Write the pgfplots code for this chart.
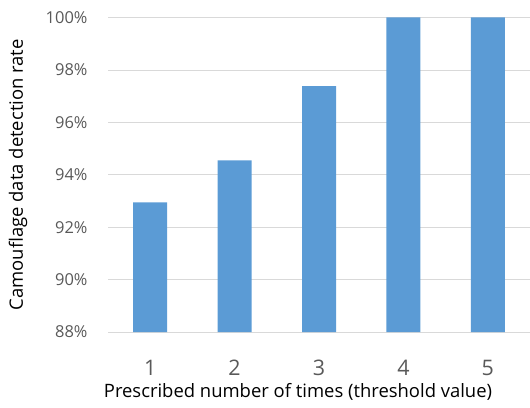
\documentclass[border=0pt]{standalone}
\usepackage{pgfplots}
\pgfplotsset{compat=1.18}
\usepackage{fontspec}
\setmainfont{Open Sans}
\definecolor{barblue}{HTML}{5B9BD5}
\definecolor{gridgray}{HTML}{D9D9D9}
\definecolor{ticktext}{HTML}{595959}
\begin{document}
\begin{tikzpicture}[x=1bp,y=1bp]
\useasboundingbox (-108,-75) rectangle (422,332);
\begin{axis}[
  at={(0,0)}, anchor=south west,
  scale only axis,
  width=422bp, height=314.5bp,
  xmin=0.5, xmax=5.5,
  ymin=88, ymax=100,
  ytick={88,90,...,100},
  yticklabel={\pgfmathprintnumber{\tick}\%},
  xtick={1,2,3,4,5},
  /pgf/number format/assume math mode=true,
  ymajorgrids, grid style={gridgray, line width=0.8pt},
  axis line style={draw=none},
  axis x line*=bottom,
  axis y line*=left,
  x axis line style={draw=gridgray, line width=0.8pt},
  major tick length=0pt,
  tick style={draw=none},
  yticklabel style={font=\fontsize{16.5}{18}\selectfont, text=ticktext, anchor=east, xshift=-17bp},
  xticklabel style={font=\fontsize{21.5}{24}\selectfont, text=ticktext, anchor=center, yshift=-36bp},
  xlabel={Prescribed number of times (threshold value)},
  ylabel={Camouflage data detection rate},
  xlabel style={font=\fontsize{18.5}{20}\selectfont, at={(axis description cs:0.5,0)}, anchor=center, yshift=-60bp, xshift=-21bp},
  ylabel style={font=\fontsize{18.5}{20}\selectfont, at={(axis description cs:-0.2133,0.5)}, anchor=center},
  clip=false,
]
\addplot[ybar, bar width=34bp, fill=barblue, draw=none] coordinates {
  (1,92.95) (2,94.55) (3,97.38) (4,100) (5,100)
};
\end{axis}
\end{tikzpicture}
\end{document}
